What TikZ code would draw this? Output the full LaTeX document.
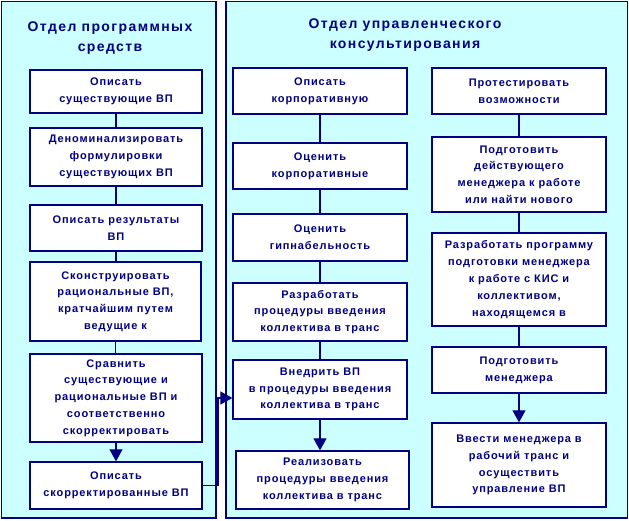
\documentclass[tikz,border=0pt]{standalone}
\usepackage{fontspec}
\setmainfont{Liberation Sans}
\newfontfamily\boxfont{Liberation Sans}[LetterSpace=8]
\newfontfamily\titlefont{Liberation Sans}[LetterSpace=10]
\usetikzlibrary{arrows.meta}
\definecolor{navy}{HTML}{000080}
\definecolor{panelfill}{HTML}{CCFFFF}
\tikzset{
  panel/.style={draw=navy, fill=panelfill, line width=1.4pt},
  bx/.style={draw=navy, fill=white, line width=1.3pt, text=navy, align=center,
    inner xsep=0pt, inner ysep=0pt,
    font=\boxfont\bfseries\fontsize{11}{16.8}\selectfont},
  ttl/.style={text=navy, align=center, font=\titlefont\bfseries\fontsize{14}{20}\selectfont},
  ln/.style={draw=navy, line width=1.2pt},
  arr/.style={ln, -{Triangle[width=13pt,length=12pt]}},
}
\begin{document}
\begin{tikzpicture}[x=1pt,y=-1pt]
\useasboundingbox (0,0) rectangle (629,520);
\fill[white] (0,0) rectangle (629,520);
\draw[panel] (1.5,1.5) rectangle (216,518);
\draw[panel] (226,1.5) rectangle (627.5,518);
\node[ttl] (t1) at (110,38) {Отдел программных\\средств};
\node[ttl] (t2) at (405,35) {Отдел управленческого\\консультирования};
% left column
\node[bx, minimum width=172pt, minimum height=43pt] (b1) at (116,91.5) {Описать\\существующие ВП};
\node[bx, minimum width=172pt, minimum height=58pt] (b2) at (116,157) {Деноминализировать\\формулировки\\существующих ВП};
\node[bx, minimum width=172pt, minimum height=46pt] (b3) at (116,228) {Описать результаты\\ВП};
\node[bx, minimum width=171pt, minimum height=79pt] (b4) at (115.5,301.5) {Сконструировать\\рациональные ВП,\\кратчайшим путем\\ведущие к};
\node[bx, minimum width=172pt, minimum height=88pt] (b5) at (116,398) {Сравнить\\существующие и\\рациональные ВП и\\соответственно\\скорректировать};
\node[bx, minimum width=172pt, minimum height=47pt] (b6) at (116,485.5) {Описать\\скорректированные ВП};
% middle column
\node[bx, minimum width=174pt, minimum height=46pt] (m1) at (320,91) {Описать\\корпоративную};
\node[bx, minimum width=174pt, minimum height=46pt] (m2) at (320,166) {Оценить\\корпоративные};
\node[bx, minimum width=174pt, minimum height=47pt] (m3) at (320,237.5) {Оценить\\гипнабельность};
\node[bx, minimum width=174pt, minimum height=58pt] (m4) at (320,312) {Разработать\\процедуры введения\\коллектива в транс};
\node[bx, minimum width=174pt, minimum height=59pt] (m5) at (320,389.5) {Внедрить ВП\\в процедуры введения\\коллектива в транс};
\node[bx, minimum width=173pt, minimum height=58pt] (m6) at (322.5,480) {Реализовать\\процедуры введения\\коллектива в транс};
% right column
\node[bx, minimum width=174pt, minimum height=46pt] (r1) at (519,91) {Протестировать\\возможности};
\node[bx, minimum width=174pt, minimum height=75pt] (r2) at (519,174.5) {Подготовить\\действующего\\менеджера к работе\\или найти нового};
\node[bx, minimum width=174pt, minimum height=93pt] (r3) at (519,279.5) {Разработать программу\\подготовки менеджера\\к работе с КИС и\\коллективом,\\находящемся в};
\node[bx, minimum width=174pt, minimum height=46pt] (r4) at (519,370) {Подготовить\\менеджера};
\node[bx, minimum width=174pt, minimum height=84pt] (r5) at (519,465) {Ввести менеджера в\\рабочий транс и\\осуществить\\управление ВП};
% connectors
\draw[ln] (b1) -- (b2);
\draw[ln] (b2) -- (b3);
\draw[ln] (b3.south) -- (b3.south |- b4.north);
\draw[ln] (b4.south) -- (b4.south |- b5.north);
\draw[arr] (b5.south) -- (b5.south |- b6.north);
\draw[ln] (m1) -- (m2);
\draw[ln] (m2) -- (m3);
\draw[ln] (m3) -- (m4);
\draw[ln] (m4) -- (m5);
\draw[arr] (m5.south) -- (m5.south |- m6.north);
\draw[ln] (r1) -- (r2);
\draw[ln] (r2) -- (r3);
\draw[ln] (r3) -- (r4);
\draw[arr] (r4) -- (r5);
\coordinate (jx) at (218,0);
\coordinate (ent) at ([yshift=-8.5pt]m5.west);
\draw[arr] (b6.east) -- (b6.east -| jx) |- (ent);
\end{tikzpicture}
\end{document}
